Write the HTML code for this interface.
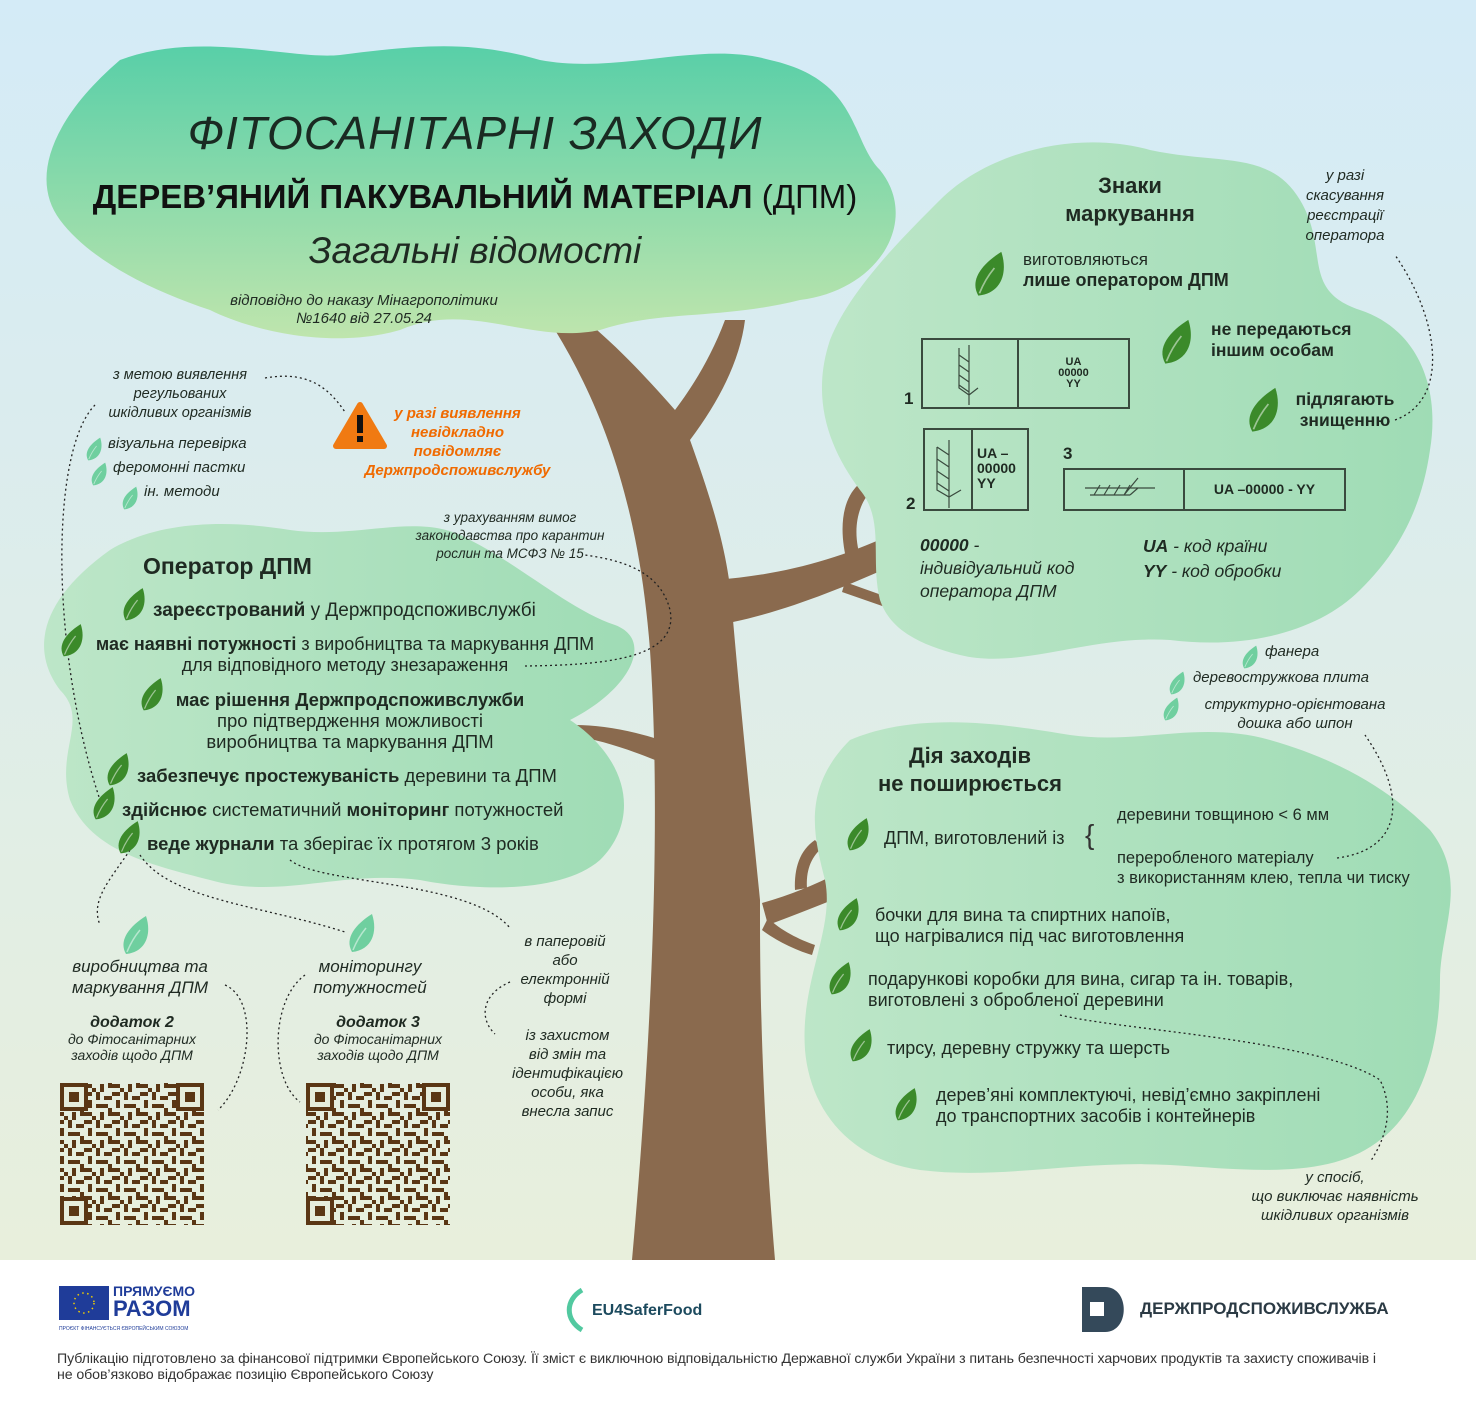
<!DOCTYPE html>
<html><head><meta charset="utf-8">
<style>
body{margin:0;width:1476px;height:1413px;position:relative;overflow:hidden;font-family:"Liberation Sans","DejaVu Sans",sans-serif;color:#1f2a22;background:#fff}
.t{position:absolute;white-space:nowrap;line-height:1.2}
.c{text-align:center}
.i{font-style:italic}
.b{font-weight:bold}
</style></head><body>
<svg width="1476" height="1413" style="position:absolute;left:0;top:0">
<defs>
<linearGradient id="bg" x1="0" y1="0" x2="0" y2="1"><stop offset="0" stop-color="#d4ebf7"/><stop offset="1" stop-color="#e8efdc"/></linearGradient>
<linearGradient id="top" x1="0" y1="0" x2="0" y2="1"><stop offset="0" stop-color="#58cfa8"/><stop offset="1" stop-color="#bfe5ad"/></linearGradient>
<linearGradient id="g2" x1="0" y1="0" x2="1" y2="0"><stop offset="0" stop-color="#bde6c8"/><stop offset="1" stop-color="#9fdcb5"/></linearGradient>
<pattern id="qr" width="28" height="28" patternUnits="userSpaceOnUse">
<rect x="0" y="0" width="8" height="4" fill="#5a3614"/><rect x="12" y="0" width="4" height="8" fill="#5a3614"/><rect x="20" y="4" width="8" height="4" fill="#5a3614"/><rect x="4" y="8" width="4" height="8" fill="#5a3614"/><rect x="12" y="12" width="12" height="4" fill="#5a3614"/><rect x="0" y="20" width="8" height="4" fill="#5a3614"/><rect x="16" y="20" width="4" height="8" fill="#5a3614"/><rect x="24" y="16" width="4" height="8" fill="#5a3614"/><rect x="8" y="24" width="4" height="4" fill="#5a3614"/>
</pattern>
</defs>
<rect width="1476" height="1260" fill="url(#bg)"/>
<!-- trunk and branches (behind clouds) -->
<g fill="#8a6a4e">
<path d="M555 330 C610 420 640 520 650 650 C660 800 655 1000 632 1260 L775 1260 C760 1080 760 960 760 900 C750 800 740 700 733 620 C730 560 715 510 690 440 C720 400 740 360 745 320 L725 320 C710 360 690 390 675 410 C640 370 610 340 585 320Z"/>
<path d="M715 580 C780 575 840 560 900 530 L905 560 C850 585 790 610 733 622Z"/>
<path d="M848 566 C838 530 842 500 858 485 L870 492 C856 508 852 535 862 562Z"/>
<path d="M845 582 L890 598 L888 608 L842 592Z"/>
<path d="M762 903 C790 895 815 885 840 872 L845 895 C820 905 795 915 768 925Z"/>
<path d="M795 890 C794 868 800 850 815 840 L822 848 C810 858 806 872 807 888Z"/>
<path d="M768 918 C780 930 800 940 815 945 L812 955 C795 950 775 940 762 930Z"/>
<path d="M660 740 C630 730 600 725 575 725 L570 735 C600 740 625 748 655 760Z"/>
</g>
<!-- clouds -->
<path fill="url(#top)" d="M120 60 C200 30 290 60 340 55 C420 45 470 40 540 60 C620 75 700 40 770 60 C860 80 850 140 880 170 C920 220 880 290 800 300 C720 320 660 310 600 330 C530 345 470 300 400 330 C330 350 250 330 210 310 C150 290 90 260 60 220 C30 180 50 120 120 60Z"/>
<path fill="url(#g2)" d="M110 550 C160 520 230 520 290 530 C360 540 420 510 470 540 C520 565 570 610 615 625 C655 640 630 690 570 720 C630 760 640 820 600 860 C560 895 470 890 420 880 C340 870 280 900 210 880 C150 865 90 850 70 800 C55 750 90 720 60 690 C30 650 40 600 110 550Z"/>
<path fill="url(#g2)" d="M940 200 C990 150 1080 130 1150 150 C1220 165 1270 150 1300 200 C1330 250 1300 290 1360 310 C1420 330 1440 390 1430 450 C1420 520 1390 560 1360 590 C1320 630 1250 650 1170 640 C1090 635 1020 670 960 655 C920 645 890 630 880 600 C870 560 885 520 860 490 C830 450 810 400 830 340 C850 290 900 240 940 200Z"/>
<path fill="url(#g2)" d="M850 740 C920 710 1010 725 1070 735 C1140 745 1200 720 1270 740 C1340 760 1390 790 1430 830 C1470 880 1440 930 1440 980 C1440 1050 1420 1110 1380 1140 C1330 1180 1250 1170 1170 1165 C1080 1160 1000 1180 920 1170 C850 1160 810 1110 805 1050 C800 980 835 930 825 880 C815 840 800 790 850 740Z"/>
<!-- marking boxes -->
<g fill="none" stroke="#3a4a3e" stroke-width="2">
<rect x="922" y="339" width="207" height="69"/><line x1="1018" y1="339" x2="1018" y2="408"/>
<rect x="924" y="429" width="104" height="81"/><line x1="972" y1="429" x2="972" y2="510"/>
<rect x="1064" y="469" width="281" height="41"/><line x1="1184" y1="469" x2="1184" y2="510"/>
<path d="M969 345 V405 M959 355 L969 362 M959 365 L969 372 M959 375 L969 382 M959 385 L969 392 M959 348 V388 L969 395 L978 388" stroke-width="1.2"/>
<path d="M949 440 V508 M937 447 L949 455 M937 459 L949 467 M937 471 L949 479 M937 483 L949 491 M937 447 V490 L949 497 L961 490" stroke-width="1.2"/>
<path d="M1085 488 H1155 M1090 495 H1130 M1100 485 L1094 495 M1110 485 L1104 495 M1120 485 L1114 495 M1130 485 L1124 495 L1138 478 M1130 495 L1138 488" stroke-width="1.2"/>
</g>
<!-- QR codes -->
<g>
<rect x="60" y="1083" width="144" height="142" fill="url(#qr)"/>
<rect x="306" y="1083" width="144" height="142" fill="url(#qr)"/>
<g fill="#e6eddc"><rect x="60" y="1083" width="28" height="28"/><rect x="176" y="1083" width="28" height="28"/><rect x="60" y="1197" width="28" height="28"/><rect x="306" y="1083" width="28" height="28"/><rect x="422" y="1083" width="28" height="28"/><rect x="306" y="1197" width="28" height="28"/></g>
<g fill="none" stroke="#5a3614" stroke-width="4"><rect x="62" y="1085" width="24" height="24"/><rect x="178" y="1085" width="24" height="24"/><rect x="62" y="1199" width="24" height="24"/><rect x="308" y="1085" width="24" height="24"/><rect x="424" y="1085" width="24" height="24"/><rect x="308" y="1199" width="24" height="24"/></g>
<g fill="#5a3614"><rect x="69" y="1092" width="10" height="10"/><rect x="185" y="1092" width="10" height="10"/><rect x="69" y="1206" width="10" height="10"/><rect x="315" y="1092" width="10" height="10"/><rect x="431" y="1092" width="10" height="10"/><rect x="315" y="1206" width="10" height="10"/></g>
</g>
<!-- dotted connectors -->
<g fill="none" stroke="#222" stroke-width="1.3" stroke-dasharray="2 3">
<path d="M265 378 C310 370 330 390 345 412"/>
<path d="M95 405 C50 450 50 650 100 800"/>
<path d="M525 666 C600 665 680 660 670 610 C660 570 620 560 585 555"/>
<path d="M1395 420 C1450 400 1440 320 1395 255"/>
<path d="M1337 858 C1400 850 1410 800 1365 735"/>
<path d="M1060 1015 C1120 1030 1320 1040 1380 1080 C1395 1110 1385 1140 1370 1162"/>
<path d="M130 850 C110 880 90 900 100 925"/>
<path d="M140 855 C170 900 260 905 345 932"/>
<path d="M290 860 C320 885 470 880 510 928"/>
<path d="M225 985 C260 1000 250 1080 218 1110"/>
<path d="M305 975 C270 1000 270 1080 300 1102"/>
<path d="M510 982 C480 995 480 1020 495 1034"/>
</g>
<!-- warning -->
<path d="M360 405 L384 446 L336 446Z" fill="#f07a12" stroke="#f07a12" stroke-width="6" stroke-linejoin="round"/>
<rect x="357" y="415" width="6" height="18" fill="#111"/><rect x="357" y="436" width="6" height="6" fill="#111"/>
<!-- footer logos -->
<rect x="59" y="1286" width="50" height="34" fill="#1f3c99"/>
<circle cx="84" cy="1303" r="10" fill="none" stroke="#f4d000" stroke-width="1.5" stroke-dasharray="1.5 3.5"/>
<path d="M582 1290 C565 1300 565 1320 582 1330" fill="none" stroke="#52c9a0" stroke-width="5"/>
<path d="M1082 1287 H1105 C1130 1287 1130 1332 1105 1332 H1082Z" fill="#34495a"/>
<rect x="1090" y="1302" width="14" height="14" fill="#fff"/>
</svg>

<div class="t c i" style="left:0;width:950px;top:106px;font-size:46px;color:#1a2a22;letter-spacing:1px">ФІТОСАНІТАРНІ ЗАХОДИ</div>
<div class="t c" style="left:0;width:950px;top:177px;font-size:33px;color:#111"><b>ДЕРЕВ’ЯНИЙ ПАКУВАЛЬНИЙ МАТЕРІАЛ</b> (ДПМ)</div>
<div class="t c i" style="left:0;width:950px;top:229px;font-size:37px">Загальні відомості</div>
<div class="t c i" style="left:154px;width:420px;top:292px;font-size:15px">відповідно до наказу Мінагрополітики<br>№1640 від 27.05.24</div>

<div class="t c i" style="left:80px;width:200px;top:366px;font-size:14.5px;line-height:19px">з метою виявлення<br>регульованих<br>шкідливих організмів</div>
<div class="t i" style="left:108px;top:435px;font-size:15px">візуальна перевірка</div>
<div class="t i" style="left:113px;top:459px;font-size:15px">феромонні пастки</div>
<div class="t i" style="left:144px;top:483px;font-size:15px">ін. методи</div>
<div class="t c i b" style="left:350px;width:215px;top:404px;font-size:15px;line-height:19px;color:#f06a00">у разі виявлення<br>невідкладно<br>повідомляє<br>Держпродспоживслужбу</div>
<div class="t c i" style="left:380px;width:260px;top:509px;font-size:13.5px;line-height:18px">з урахуванням вимог<br>законодавства про карантин<br>рослин та МСФЗ № 15</div>

<div class="t b" style="left:143px;top:553px;font-size:23px">Оператор ДПМ</div>
<div class="t" style="left:153px;top:600px;font-size:19px"><b>зареєстрований</b> у Держпродспоживслужбі</div>
<div class="t c" style="left:65px;width:560px;top:634px;font-size:18px;line-height:21px"><b>має наявні потужності</b> з виробництва та маркування ДПМ<br>для відповідного методу знезараження</div>
<div class="t c" style="left:160px;width:380px;top:689px;font-size:18.5px;line-height:21px"><b>має рішення Держпродспоживслужби</b><br>про підтвердження можливості<br>виробництва та маркування ДПМ</div>
<div class="t" style="left:137px;top:765px;font-size:18.5px"><b>забезпечує простежуваність</b> деревини та ДПМ</div>
<div class="t" style="left:122px;top:799px;font-size:18.5px"><b>здійснює</b> систематичний <b>моніторинг</b> потужностей</div>
<div class="t" style="left:147px;top:833px;font-size:18.5px"><b>веде журнали</b> та зберігає їх протягом 3 років</div>

<div class="t c i" style="left:40px;width:200px;top:956px;font-size:17px;line-height:21px">виробництва та<br>маркування ДПМ</div>
<div class="t c i" style="left:270px;width:200px;top:956px;font-size:17px;line-height:21px">моніторингу<br>потужностей</div>
<div class="t c i" style="left:32px;width:200px;top:1014px;font-size:14px;line-height:16px"><b style="font-size:16px">додаток 2</b><br>до Фітосанітарних<br>заходів щодо ДПМ</div>
<div class="t c i" style="left:278px;width:200px;top:1014px;font-size:14px;line-height:16px"><b style="font-size:16px">додаток 3</b><br>до Фітосанітарних<br>заходів щодо ДПМ</div>
<div class="t c i" style="left:495px;width:140px;top:932px;font-size:15px;line-height:19px">в паперовій<br>або<br>електронній<br>формі</div>
<div class="t c i" style="left:495px;width:145px;top:1026px;font-size:15px;line-height:19px">із захистом<br>від змін та<br>ідентифікацією<br>особи, яка<br>внесла запис</div>

<div class="t c b" style="left:1030px;width:200px;top:172px;font-size:22px;line-height:28px">Знаки<br>маркування</div>
<div class="t c i" style="left:1280px;width:130px;top:166px;font-size:15px;line-height:20px">у разі<br>скасування<br>реєстрації<br>оператора</div>
<div class="t" style="left:1023px;top:249px;font-size:17px;line-height:21px">виготовляються<br><b style="font-size:18px">лише оператором ДПМ</b></div>
<div class="t b" style="left:1211px;top:319px;font-size:17.5px;line-height:21px">не передаються<br>іншим особам</div>
<div class="t c b" style="left:1285px;width:120px;top:389px;font-size:17.5px;line-height:21px">підлягають<br>знищенню</div>
<div class="t b" style="left:904px;top:389px;font-size:17px">1</div>
<div class="t b" style="left:906px;top:494px;font-size:17px">2</div>
<div class="t b" style="left:1063px;top:444px;font-size:17px">3</div>
<div class="t c b" style="left:1018px;width:111px;top:357px;font-size:11px;line-height:11px">UA<br>00000<br>YY</div>
<div class="t b" style="left:977px;top:446px;font-size:14px;line-height:15px">UA –<br>00000<br>YY</div>
<div class="t c b" style="left:1184px;width:161px;top:481px;font-size:14px">UA –00000 - YY</div>
<div class="t i" style="left:920px;top:534px;font-size:17.5px;line-height:23px"><b>00000</b> -<br>індивідуальний код<br>оператора ДПМ</div>
<div class="t i" style="left:1143px;top:534px;font-size:17.5px;line-height:25px"><b>UA</b> - код країни<br><b>YY</b> - код обробки</div>

<div class="t i" style="left:1265px;top:643px;font-size:15px">фанера</div>
<div class="t i" style="left:1193px;top:669px;font-size:15px">деревостружкова плита</div>
<div class="t c i" style="left:1185px;width:220px;top:695px;font-size:15px;line-height:19px">структурно-орієнтована<br>дошка або шпон</div>

<div class="t c b" style="left:850px;width:240px;top:742px;font-size:22px;line-height:28px">Дія заходів<br>не поширюється</div>
<div class="t" style="left:884px;top:828px;font-size:18px">ДПМ, виготовлений із</div>
<div class="t" style="left:1085px;top:818px;font-size:28px;color:#333">{</div>
<div class="t" style="left:1117px;top:806px;font-size:16.5px">деревини товщиною &lt; 6 мм</div>
<div class="t" style="left:1117px;top:848px;font-size:16.5px;line-height:20px">переробленого матеріалу<br>з використанням клею, тепла чи тиску</div>
<div class="t" style="left:875px;top:905px;font-size:18px;line-height:21px">бочки для вина та спиртних напоїв,<br>що нагрівалися під час виготовлення</div>
<div class="t" style="left:868px;top:969px;font-size:18px;line-height:21px">подарункові коробки для вина, сигар та ін. товарів,<br>виготовлені з обробленої деревини</div>
<div class="t" style="left:887px;top:1038px;font-size:18px">тирсу, деревну стружку та шерсть</div>
<div class="t" style="left:936px;top:1085px;font-size:18px;line-height:21px">дерев’яні комплектуючі, невід’ємно закріплені<br>до транспортних засобів і контейнерів</div>
<div class="t c i" style="left:1210px;width:250px;top:1168px;font-size:15px;line-height:19px">у спосіб,<br>що виключає наявність<br>шкідливих організмів</div>

<div class="t b" style="left:113px;top:1284px;font-size:14px;color:#1f3c99;line-height:14px">ПРЯМУЄМО<br><span style="font-size:22px;line-height:22px">РАЗОМ</span></div>
<div class="t" style="left:59px;top:1326px;font-size:5px;color:#1f3c99">ПРОЄКТ ФІНАНСУЄТЬСЯ ЄВРОПЕЙСЬКИМ СОЮЗОМ</div>
<div class="t b" style="left:592px;top:1301px;font-size:16px;color:#1c4a5e">EU4SaferFood</div>
<div class="t b" style="left:1140px;top:1299px;font-size:17px;color:#2b3a44">ДЕРЖПРОДСПОЖИВСЛУЖБА</div>
<div class="t" style="left:57px;top:1351px;font-size:14.2px;line-height:16px;color:#333;letter-spacing:-0.1px">Публікацію підготовлено за фінансової підтримки Європейського Союзу. Її зміст є виключною відповідальністю Державної служби України з питань безпечності харчових продуктів та захисту споживачів і<br>не обов’язково відображає позицію Європейського Союзу</div>

<!-- leaves -->
<svg width="1476" height="1413" style="position:absolute;left:0;top:0;pointer-events:none">
<defs><g id="lf"><path d="M2 24 C-6 10 6 -4 22 -14 C28 4 22 22 2 24 Z"/><path d="M3 22 C7 12 11 6 16 0" fill="none" stroke="#fff" stroke-opacity="0.5" stroke-width="1.5"/></g></defs>
<g fill="#3b8a2a">
<use href="#lf" transform="translate(976 268) scale(1.15)"/>
<use href="#lf" transform="translate(1163 336) scale(1.15)"/>
<use href="#lf" transform="translate(1250 404) scale(1.15)"/>
<use href="#lf" transform="translate(124 600) scale(0.85)"/>
<use href="#lf" transform="translate(62 636) scale(0.85)"/>
<use href="#lf" transform="translate(142 690) scale(0.85)"/>
<use href="#lf" transform="translate(108 765) scale(0.85)"/>
<use href="#lf" transform="translate(94 799) scale(0.85)"/>
<use href="#lf" transform="translate(119 833) scale(0.85)"/>
<use href="#lf" transform="translate(848 830) scale(0.85)"/>
<use href="#lf" transform="translate(838 910) scale(0.85)"/>
<use href="#lf" transform="translate(830 974) scale(0.85)"/>
<use href="#lf" transform="translate(851 1041) scale(0.85)"/>
<use href="#lf" transform="translate(896 1100) scale(0.85)"/>
</g>
<g fill="#6fcf9f">
<use href="#lf" transform="translate(124 930) scale(1)"/>
<use href="#lf" transform="translate(350 928) scale(1)"/>
<use href="#lf" transform="translate(87 446) scale(0.6)"/>
<use href="#lf" transform="translate(92 471) scale(0.6)"/>
<use href="#lf" transform="translate(123 495) scale(0.6)"/>
<use href="#lf" transform="translate(1243 654) scale(0.6)"/>
<use href="#lf" transform="translate(1170 680) scale(0.6)"/>
<use href="#lf" transform="translate(1164 706) scale(0.6)"/>
</g>
</svg>
</body></html>
